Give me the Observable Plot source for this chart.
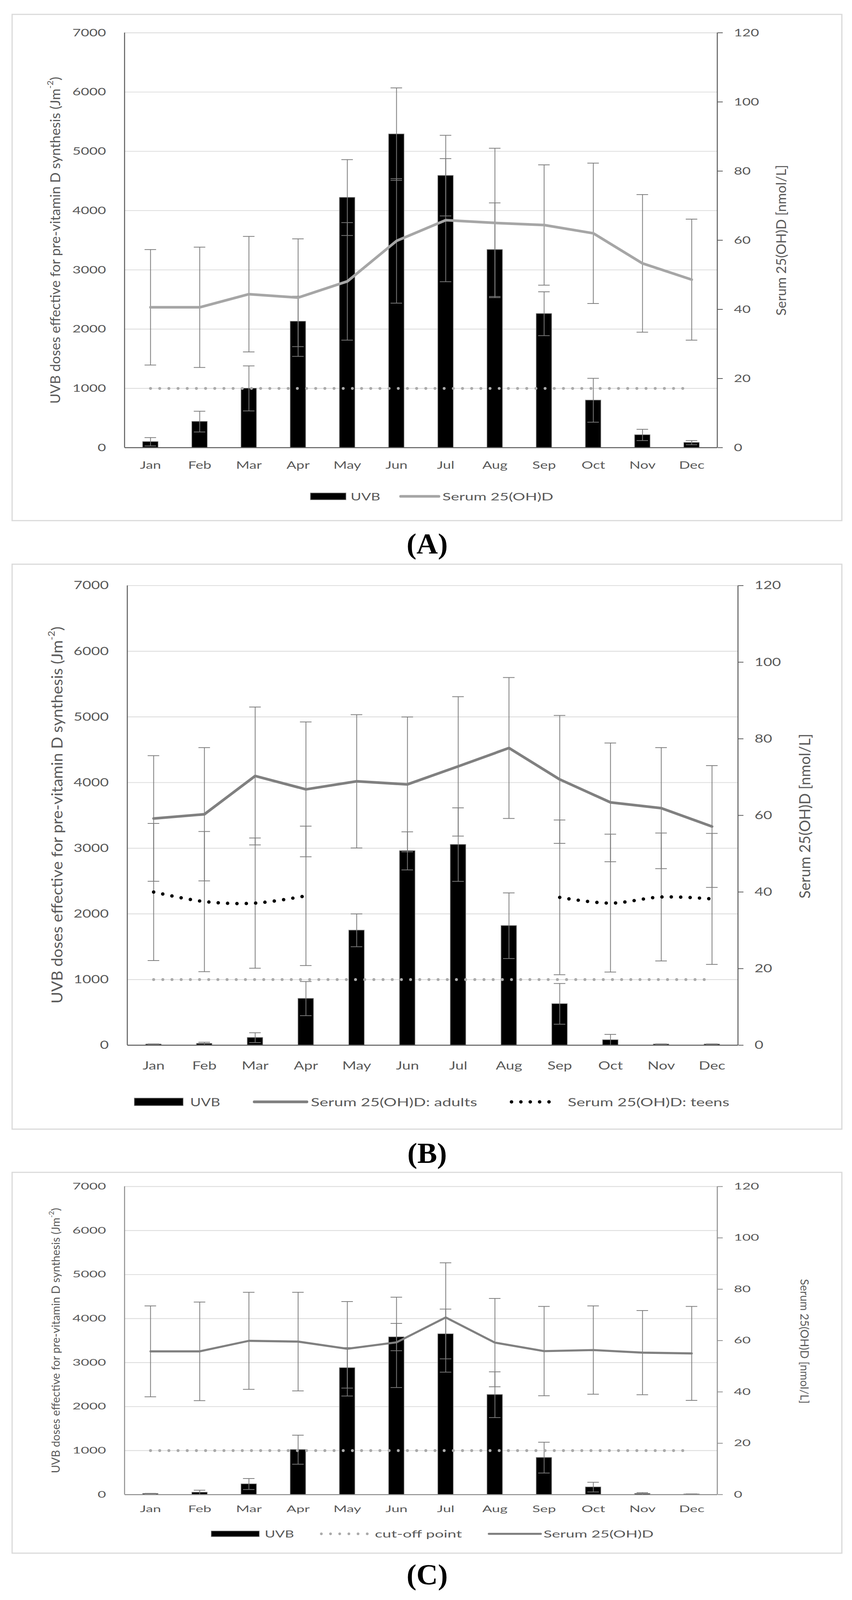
<!DOCTYPE html>
<html><head><meta charset="utf-8">
<script src="https://cdn.jsdelivr.net/npm/d3@7"></script>
<script src="https://cdn.jsdelivr.net/npm/@observablehq/plot@0.6"></script>
<style>
html,body{margin:0;padding:0;background:#fff;}
#page{position:relative;width:2182px;height:4222px;background:#fff;overflow:hidden;font-family:Lato, sans-serif;transform:scaleY(0.970);transform-origin:0 0;}
#page svg.plotsvg{position:absolute;left:31px;}
</style></head><body><div id="page"></div>
<script>
// ---------- shared categories and axis ticks ----------
const months = ["Jan","Feb","Mar","Apr","May","Jun","Jul","Aug","Sep","Oct","Nov","Dec"];
const leftTicks = [0,1000,2000,3000,4000,5000,6000,7000];
const rightTicks = [0,20,40,60,80,100,120];
const leftMax = 7000, rightMax = 120;
const cutoff = 1000;

// ---------- Panel A ----------
const uvbA      = [100, 440, 1000, 2130, 4220, 5290, 4590, 3340, 2260, 800, 215, 85];
const uvbErrA   = [70, 175, 380, 425, 640, 780, 680, 790, 370, 370, 95, 35];
const serumA    = [40.6, 40.6, 44.4, 43.4, 48.1, 59.8, 65.8, 65.0, 64.4, 62.0, 53.3, 48.6];
const serumErrA = [16.7, 17.4, 16.7, 17.0, 17.0, 18.0, 17.8, 21.6, 17.4, 20.3, 19.9, 17.5];

// ---------- Panel B ----------
const uvbB       = [15, 25, 115, 710, 1750, 2960, 3055, 1820, 630, 80, 15, 15];
const uvbErrB    = [5, 20, 75, 260, 250, 290, 560, 500, 310, 85, 5, 5];
const adultsB    = [59.2, 60.3, 70.3, 66.8, 68.9, 68.1, 72.8, 77.6, 69.4, 63.4, 61.9, 57.1];
const adultsErrB = [16.4, 17.4, 18.0, 17.6, 17.4, 17.6, 18.2, 18.4, 16.7, 15.5, 15.8, 15.9];
const teensB     = [40.0, 37.5, 37.1, 39.0, null, null, null, null, 38.6, 37.1, 38.7, 38.2];
const teensErrB  = [17.9, 18.3, 17.0, 18.2, null, null, null, null, 20.2, 18.0, 16.7, 17.1];

// ---------- Panel C ----------
const uvbC      = [20, 50, 240, 1020, 2880, 3580, 3650, 2270, 840, 170, 20, 10];
const uvbErrC   = [8, 50, 125, 330, 460, 310, 565, 520, 350, 110, 25, 5];
const serumC    = [55.8, 55.8, 59.9, 59.6, 56.8, 59.3, 69.0, 59.2, 55.9, 56.3, 55.3, 55.0];
const serumErrC = [17.7, 19.2, 18.9, 19.2, 18.4, 17.6, 21.3, 17.2, 17.4, 17.2, 16.4, 18.3];

// ---------- texts ----------
const leftTitle = "UVB doses effective for pre-vitamin D synthesis (Jm";
const rightTitle = "Serum 25(OH)D [nmol/L]";
const K = leftMax / rightMax;
const FRAME_L = 31, FRAME_R = 2156;
const page = d3.select("#page");

function buildPanel(cfg) {
  const bw = (cfg.plotRight - cfg.plotLeft) / months.length;
  const barInset = (bw - 40) / 2, capInset = (bw - 30) / 2;
  const errColor = "#7a7a7a";
  const bars = months.map((m, i) => ({m, v: cfg.uvb[i], e: cfg.uvbErr[i]}));
  const cut = months.map(m => ({m, v: cutoff}));
  const marks = [
    Plot.gridY({ticks: leftTicks.slice(1), stroke: "#d9d9d9", strokeOpacity: 1, strokeWidth: 2}),
    Plot.barY(bars, {x: "m", y: "v", fill: "#000", stroke: "#808080", strokeWidth: 1.5, insetLeft: barInset, insetRight: barInset}),
    Plot.ruleX(bars, {x: "m", y1: d => Math.max(0, d.v - d.e), y2: d => d.v + d.e, stroke: errColor, strokeWidth: 2}),
    Plot.tickY(bars, {x: "m", y: d => d.v + d.e, stroke: errColor, strokeWidth: 2, insetLeft: capInset, insetRight: capInset}),
    Plot.tickY(bars, {x: "m", y: d => Math.max(0, d.v - d.e), stroke: errColor, strokeWidth: 2, insetLeft: capInset, insetRight: capInset})
  ];
  const lineMarks = [];
  for (const s of cfg.series) {
    const rows = months.map((m, i) => ({m, v: s.values[i], e: s.err[i]}));
    const valid = rows.filter(d => d.v != null);
    marks.push(
      Plot.ruleX(valid, {x: "m", y1: d => (d.v - d.e) * K, y2: d => (d.v + d.e) * K, stroke: errColor, strokeWidth: 2}),
      Plot.tickY(valid, {x: "m", y: d => (d.v + d.e) * K, stroke: errColor, strokeWidth: 2, insetLeft: capInset, insetRight: capInset}),
      Plot.tickY(valid, {x: "m", y: d => (d.v - d.e) * K, stroke: errColor, strokeWidth: 2, insetLeft: capInset, insetRight: capInset})
    );
    lineMarks.push(Plot.line(rows, {x: "m", y: d => d.v == null ? NaN : d.v * K, stroke: s.color, strokeWidth: s.width,
      strokeDasharray: s.dash, strokeLinecap: "round", strokeLinejoin: "round", curve: s.curve || "linear"}));
  }
  marks.push(Plot.line(cut, {x: "m", y: "v", stroke: "#aaaaaa", strokeWidth: 7.5, strokeDasharray: "0 23.5", strokeLinecap: "round"}));
  marks.push(...lineMarks);
  marks.push(
    Plot.ruleY([0], {stroke: cfg.axisColor, strokeWidth: 2.5}),
    Plot.axisY({anchor: "left", ticks: leftTicks, tickFormat: d => String(d), tickSize: 0, tickPadding: 48, label: null}),
    Plot.axisY({anchor: "right", ticks: rightTicks.map(v => v * K), tickFormat: d => String(Math.round(d / K)),
      tickSize: 13, tickPadding: 29, stroke: cfg.axisColor, strokeWidth: 2, label: null}),
    Plot.axisX({tickSize: 0, tickPadding: cfg.monthPad, label: null})
  );
  const H = cfg.frameBottom - cfg.frameTop;
  const svg = Plot.plot({
    width: FRAME_R - FRAME_L, height: H,
    marginLeft: cfg.plotLeft - FRAME_L, marginRight: FRAME_R - cfg.plotRight,
    marginTop: cfg.plotTop - cfg.frameTop, marginBottom: cfg.frameBottom - cfg.plotBottom,
    x: {domain: months, padding: 0, type: "band"},
    y: {domain: [0, leftMax]},
    style: {fontFamily: "Lato, sans-serif", fontSize: cfg.font + "px", color: "#595959", background: "transparent", overflow: "visible"},
    marks
  });
  svg.classList.add("plotsvg");
  svg.style.top = cfg.frameTop + "px";
  svg.style.position = "absolute";
  svg.style.left = FRAME_L + "px";
  page.node().appendChild(svg);
  // horizontal stretch of the tick labels, as in the picture
  let texts = Array.from(svg.querySelectorAll('g[aria-label$="tick label"] text'));
  if (!texts.length) texts = Array.from(svg.querySelectorAll("text"));
  const ref = texts.find(t => t.textContent.trim() === "7000");
  const k = ref ? cfg.tickTarget / ref.getComputedTextLength() : 1.3;
  texts.forEach(t => {
    const L = t.getComputedTextLength();
    t.setAttribute("textLength", (L * k).toFixed(1));
    t.setAttribute("lengthAdjust", "spacingAndGlyphs");
  });
  return svg;
}

const panels = [
  {
    uvb: uvbA, uvbErr: uvbErrA,
    series: [{values: serumA, err: serumErrA, color: "#a6a6a6", width: 7}],
    frameTop: 38, frameBottom: 1374, plotLeft: 319, plotRight: 1837, plotTop: 86, plotBottom: 1181,
    font: 28, tickTarget: 86, monthPad: 36, axisColor: "#595959",
    titleL: {x: 141, y: 634, len: 863, size: 34}, titleR: {x: 2000, y: 634, len: 398, size: 34, rot: -90},
    legendY: 1310, legendFont: 28,
    legend: [
      {type: "rect", x1: 795, x2: 886, h: 18},
      {type: "text", x: 898, w: 76, text: "UVB"},
      {type: "line", x1: 1026, x2: 1124, color: "#a6a6a6", w: 7},
      {type: "text", x: 1133, w: 284, text: "Serum 25(OH)D"}
    ],
    label: "(A)", labelY: 1440
  },
  {
    uvb: uvbB, uvbErr: uvbErrB,
    series: [
      {values: adultsB, err: adultsErrB, color: "#808080", width: 7},
      {values: teensB, err: teensErrB, color: "#000", width: 9, dash: "0 24", curve: "catmull-rom"}
    ],
    frameTop: 1489, frameBottom: 2980, plotLeft: 326, plotRight: 1890, plotTop: 1545, plotBottom: 2758,
    font: 30, tickTarget: 90, monthPad: 43, axisColor: "#595959",
    titleL: {x: 145, y: 2151, len: 995, size: 38}, titleR: {x: 2060, y: 2154, len: 435, size: 38, rot: -90},
    legendY: 2908, legendFont: 30,
    legend: [
      {type: "rect", x1: 344, x2: 469, h: 20},
      {type: "text", x: 487, w: 77, text: "UVB"},
      {type: "line", x1: 651, x2: 786, color: "#808080", w: 7},
      {type: "text", x: 796, w: 426, text: "Serum 25(OH)D: adults"},
      {type: "line", x1: 1310, x2: 1430, color: "#000", w: 9, dash: "0 24"},
      {type: "text", x: 1454, w: 414, text: "Serum 25(OH)D: teens"}
    ],
    label: "(B)", labelY: 3048
  },
  {
    uvb: uvbC, uvbErr: uvbErrC,
    series: [{values: serumC, err: serumErrC, color: "#808080", width: 5.5}],
    frameTop: 3094, frameBottom: 4099, plotLeft: 319, plotRight: 1837, plotTop: 3131, plotBottom: 3944,
    font: 24, tickTarget: 86, monthPad: 29, axisColor: "#8c8c8c",
    titleL: {x: 142, y: 3538, len: 700, size: 29}, titleR: {x: 2061, y: 3540, len: 329, size: 29, rot: 90},
    legendY: 4048, legendFont: 25,
    legend: [
      {type: "rect", x1: 541, x2: 664, h: 15},
      {type: "text", x: 678, w: 75, text: "UVB"},
      {type: "line", x1: 823, x2: 946, color: "#aaaaaa", w: 7, dash: "0 23.5"},
      {type: "text", x: 960, w: 223, text: "cut-off point"},
      {type: "line", x1: 1252, x2: 1385, color: "#808080", w: 5.5},
      {type: "text", x: 1392, w: 282, text: "Serum 25(OH)D"}
    ],
    label: "(C)", labelY: 4160
  }
];

panels.forEach(buildPanel);

// ---------- overlay: frames, axis lines, titles, legends, panel labels ----------
const ov = page.append("svg").attr("width", 2182).attr("height", 4222)
  .style("position", "absolute").style("left", 0).style("top", 0)
  .style("font-family", "Lato, sans-serif");

for (const p of panels) {
  ov.append("rect").attr("x", FRAME_L).attr("y", p.frameTop).attr("width", FRAME_R - FRAME_L).attr("height", p.frameBottom - p.frameTop)
    .attr("fill", "none").attr("stroke", "#d9d9d9").attr("stroke-width", 3);
  for (const x of [p.plotLeft, p.plotRight]) {
    ov.append("line").attr("x1", x).attr("x2", x).attr("y1", p.plotTop).attr("y2", p.plotBottom)
      .attr("stroke", p.axisColor).attr("stroke-width", 2.5);
  }
  // left title with superscript
  const tl = ov.append("text")
    .attr("transform", `translate(${p.titleL.x},${p.titleL.y}) rotate(-90)`)
    .attr("text-anchor", "middle").attr("dominant-baseline", "central")
    .attr("font-size", p.titleL.size).attr("fill", "#595959")
    .attr("textLength", p.titleL.len).attr("lengthAdjust", "spacingAndGlyphs");
  tl.append("tspan").text(leftTitle);
  tl.append("tspan").attr("font-size", p.titleL.size * 0.62).attr("dy", -p.titleL.size * 0.38).text("-2");
  tl.append("tspan").attr("dy", p.titleL.size * 0.38).text(")");
  ov.append("text")
    .attr("transform", `translate(${p.titleR.x},${p.titleR.y}) rotate(${p.titleR.rot})`)
    .attr("text-anchor", "middle").attr("dominant-baseline", "central")
    .attr("font-size", p.titleR.size).attr("fill", "#595959")
    .attr("textLength", p.titleR.len).attr("lengthAdjust", "spacingAndGlyphs")
    .text(rightTitle);
  // legend
  for (const it of p.legend) {
    if (it.type === "rect") {
      ov.append("rect").attr("x", it.x1).attr("y", p.legendY - it.h / 2).attr("width", it.x2 - it.x1).attr("height", it.h)
        .attr("fill", "#000").attr("stroke", "#808080").attr("stroke-width", 1.5);
    } else if (it.type === "line") {
      const l = ov.append("line").attr("x1", it.x1).attr("x2", it.x2).attr("y1", p.legendY).attr("y2", p.legendY)
        .attr("stroke", it.color).attr("stroke-width", it.w).attr("stroke-linecap", "round");
      if (it.dash) l.attr("stroke-dasharray", it.dash);
    } else {
      ov.append("text").attr("x", it.x).attr("y", p.legendY).attr("dominant-baseline", "central")
        .attr("font-size", p.legendFont).attr("fill", "#595959")
        .attr("textLength", it.w).attr("lengthAdjust", "spacingAndGlyphs").text(it.text);
    }
  }
  ov.append("text").attr("x", 1094).attr("y", p.labelY + 21).attr("text-anchor", "middle")
    .attr("font-family", "'Liberation Serif', 'DejaVu Serif', serif").attr("font-weight", "bold")
    .attr("font-size", 76).attr("fill", "#000").text(p.label);
}
</script>
</body></html>
